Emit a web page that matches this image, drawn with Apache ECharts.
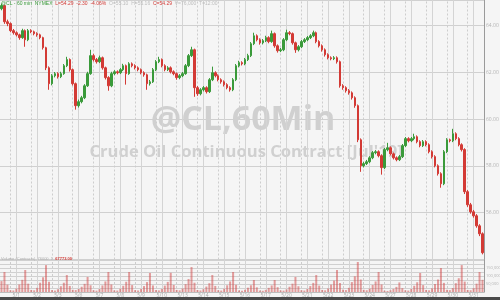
<!DOCTYPE html>
<html><head><meta charset="utf-8">
<script src="https://cdn.jsdelivr.net/npm/echarts@6/dist/echarts.min.js"></script>
<style>html,body{margin:0;padding:0;background:#f5f5f5}#c{width:500px;height:300px}</style>
</head><body><div id="c"></div>
<script>
// ---- data ----
const dayLabels = ['5/1','5/2','5/3','5/6','5/7','5/8','5/9','5/10','5/13','5/14','5/15','5/16','5/17','5/20','5/21','5/22','5/23','5/24','5/27','5/28','5/29','5/30','5/31'];
const barsPerDay = 7;
const firstMidnightBar = 5;
const sessionOffset = 2;
const firstOpen = 64.73;
const closes = [
64.86,64.17,64.09,63.79,63.70,63.61,63.49,63.79,63.40,63.79,
63.74,63.66,63.61,63.49,63.06,62.20,61.52,61.86,61.95,61.82,
61.95,62.29,62.55,62.12,61.52,60.58,60.75,60.92,61.43,61.95,
62.72,62.55,62.46,62.63,62.20,61.78,61.43,61.95,62.03,61.99,
62.12,62.29,61.95,62.37,62.29,62.20,62.12,61.99,61.90,61.52,
61.60,62.12,62.46,62.55,62.29,62.12,62.20,62.03,61.95,61.78,
61.86,61.95,62.29,62.72,62.97,61.35,61.09,61.26,61.35,61.18,
61.69,61.99,61.86,61.69,61.60,61.48,61.35,61.26,61.69,62.29,
62.42,62.37,62.55,62.72,63.23,63.57,63.40,63.27,63.36,63.49,
63.32,63.66,63.14,62.93,62.97,63.40,63.70,63.66,63.27,62.97,
63.10,63.32,63.40,63.49,63.57,63.70,63.32,63.14,62.97,62.76,
62.63,62.59,62.63,62.46,61.43,61.35,61.22,61.13,60.92,60.58,
59.12,58.01,58.10,58.18,58.35,58.57,58.61,58.44,57.93,58.70,
58.78,58.52,58.35,58.27,58.40,58.87,59.17,59.08,59.17,59.25,
59.04,58.87,59.04,58.91,58.61,58.40,58.01,57.67,57.24,58.61,
59.12,59.08,59.38,59.17,58.91,58.70,56.90,56.34,56.04,55.87,
55.44,55.10,54.29];
const highs = [
64.95,64.90,64.26,64.14,63.86,63.76,63.66,63.87,63.84,63.86,
63.85,63.79,63.72,63.66,63.53,63.10,62.26,61.93,62.02,62.01,
62.03,62.36,62.67,62.60,62.17,61.57,60.84,61.00,61.50,62.03,
62.97,62.80,62.62,62.72,62.68,62.25,61.84,62.03,62.10,62.09,
62.19,62.37,62.34,62.44,62.43,62.35,62.26,62.17,62.05,61.95,
61.68,62.19,62.53,62.67,62.60,62.35,62.27,62.26,62.09,62.00,
61.93,62.02,62.36,62.79,63.10,63.02,61.42,61.33,61.42,61.41,
61.76,62.25,62.05,61.92,61.75,61.66,61.54,61.41,61.76,62.36,
62.50,62.48,62.62,62.80,63.30,63.70,63.63,63.46,63.43,63.57,
63.55,63.79,63.71,63.20,63.05,63.47,63.83,63.77,63.71,63.32,
63.17,63.39,63.47,63.56,63.64,63.79,63.75,63.38,63.20,63.03,
62.82,62.69,62.70,62.69,62.51,61.50,61.41,61.29,61.19,60.98,
60.63,59.18,58.18,58.26,58.42,58.64,58.68,58.67,58.50,58.77,
58.99,58.84,58.58,58.41,58.47,58.94,59.24,59.23,59.24,59.38,
59.31,59.10,59.11,59.10,58.97,58.67,58.46,58.07,57.73,58.68,
59.19,59.17,59.59,59.44,59.23,58.97,58.76,56.97,56.42,56.12,
55.94,55.51,55.16];
const lows = [
64.66,64.08,63.98,63.72,63.62,63.54,63.40,63.44,63.10,63.34,
63.68,63.59,63.53,63.42,62.98,62.10,61.26,61.45,61.79,61.74,
61.76,61.90,62.23,62.04,61.44,60.41,60.50,60.68,60.86,61.38,
61.90,62.47,62.38,62.40,62.12,61.70,61.22,61.37,61.88,61.92,
61.93,62.06,61.48,61.90,62.22,62.13,62.05,61.92,61.82,61.26,
61.44,61.55,62.06,62.40,62.22,62.05,62.06,61.96,61.88,61.69,
61.71,61.80,61.90,62.23,62.66,60.96,61.00,61.02,61.19,61.10,
61.12,61.63,61.79,61.62,61.52,61.40,61.28,61.18,61.20,61.63,
62.22,62.30,62.31,62.49,62.66,63.17,63.33,63.19,63.20,63.30,
63.25,63.27,63.06,62.85,62.87,62.91,63.34,63.59,63.19,62.84,
62.90,63.04,63.26,63.34,63.43,63.51,63.25,63.07,62.89,62.68,
62.56,62.52,62.53,62.38,61.35,61.26,61.14,61.05,60.84,60.49,
59.02,57.75,57.94,58.04,58.12,58.29,58.50,58.37,57.63,57.87,
58.63,58.45,58.28,58.20,58.21,58.34,58.81,59.01,59.02,59.10,
58.97,58.80,58.81,58.84,58.54,58.32,57.94,57.59,57.07,57.18,
58.55,59.01,59.02,59.10,58.84,58.62,56.80,56.25,55.96,55.79,
55.36,55.00,54.22];
const volumes = [
68000,125000,46000,11000,9500,21000,47000,76000,137500,52000,
13000,10500,26000,58000,92000,168000,64000,12000,9000,17000,
36000,58000,106000,38000,14000,12000,19000,33000,51000,94000,
42000,11000,8500,18000,41000,66000,125000,47000,10000,9000,
20000,39000,64000,125000,43000,11500,9500,18500,37000,62000,
119000,41000,12000,10000,19000,40000,63000,120000,44000,13000,
10500,22000,49000,81000,156000,58000,12500,9500,17500,34000,
55000,106000,38000,11000,9000,20000,42000,66000,125000,45000,
9500,8000,14000,27000,42000,75000,29000,9000,7500,13500,
26000,41000,75000,30000,10000,8500,16000,33000,52000,94000,
36000,11000,9000,18500,37000,57000,106000,40000,13000,10500,
22000,46000,71000,137500,56000,15000,12000,26000,62000,98000,
187500,78000,14000,11000,21000,44000,66000,125000,47000,8000,
6500,11000,19000,32000,60000,24000,10500,9000,19000,39000,
61000,119000,43000,13000,10500,23000,50000,78000,150000,57000,
14000,11500,25000,55000,86000,168000,65000,13000,11000,24000,
52000,125000,76000];
const volumeTickLabels = [50000, 100000, 150000];

// ---- build ----
const cats = closes.map((_, i) => String(i));
const opens = [firstOpen].concat(closes.slice(0, -1));
const candles = closes.map((c, i) => [opens[i], c, lows[i], highs[i]]);
const lastClose = closes[closes.length - 1];
const lastVol = volumes[volumes.length - 1];

function dayLines() {
  const out = [];
  dayLabels.forEach((d, k) => {
    const mid = firstMidnightBar + barsPerDay * k;
    const ses = mid - sessionOffset;
    if (ses >= 0 && ses < cats.length) out.push({xAxis: cats[ses], lineStyle: {type: [2, 2], color: '#cdcdcd', width: 1}});
    if (mid < cats.length) out.push({xAxis: cats[mid], lineStyle: {type: 'solid', color: '#d4d4d4', width: 1}});
  });
  return out;
}
const UP = '#3a9a3a', DOWN = '#d33a35';
const fmt = n => n.toLocaleString('en-US');

const chart = echarts.init(document.getElementById('c'), null, {renderer: 'canvas'});
chart.setOption({
  animation: false,
  backgroundColor: '#f5f5f5',
  textStyle: {fontFamily: 'Open Sans, DejaVu Sans, sans-serif'},
  grid: [
    {left: 0, right: 16, top: 0, height: 259.5, outerBoundsMode: 'none', containLabel: false},
    {left: 0, right: 16, top: 260, height: 32, outerBoundsMode: 'none', containLabel: false}
  ],
  xAxis: [
    {type: 'category', gridIndex: 0, data: cats, boundaryGap: true,
     axisLine: {show: false}, axisTick: {show: false}, axisLabel: {show: false}, splitLine: {show: false}},
    {type: 'category', gridIndex: 1, data: cats, boundaryGap: true,
     axisLine: {show: true, lineStyle: {color: '#bdbdbd'}}, axisTick: {show: false}, splitLine: {show: false},
     axisLabel: {show: true, fontSize: 5, color: '#a8a8a8', margin: 1,
       interval: idx => idx >= firstMidnightBar && (idx - firstMidnightBar) % barsPerDay === 0,
       formatter: (v, idx) => dayLabels[(idx - firstMidnightBar) / barsPerDay] || ''}}
  ],
  yAxis: [
    {type: 'value', gridIndex: 0, position: 'right', min: 54, max: 65.1, interval: 2,
     axisLine: {show: true, lineStyle: {color: '#9a9a9a'}}, axisTick: {show: false},
     splitLine: {show: true, lineStyle: {color: '#d0d0d0', width: 1}},
     axisLabel: {fontSize: 5, color: '#b4b4b4', margin: 2, showMinLabel: false, showMaxLabel: false,
       formatter: v => v.toFixed(2)}},
    {type: 'value', gridIndex: 1, position: 'right', min: 0, max: 200000, interval: 25000,
     axisLine: {show: true, lineStyle: {color: '#9a9a9a'}}, axisTick: {show: false},
     splitLine: {show: true, lineStyle: {color: '#d0d0d0', width: 1}},
     axisLabel: {fontSize: 4, color: '#b4b4b4', margin: 2, showMinLabel: false, showMaxLabel: false,
       formatter: v => volumeTickLabels.indexOf(v) >= 0 ? fmt(v) : ''}}
  ],
  series: [
    {type: 'candlestick', xAxisIndex: 0, yAxisIndex: 0, data: candles, barWidth: 2, z: 3,
     itemStyle: {color: UP, color0: DOWN, borderColor: UP, borderColor0: DOWN, borderWidth: 1},
     markLine: {silent: true, symbol: ['none', 'none'], animation: false, z: 1,
       label: {show: false},
       data: dayLines().concat([{yAxis: lastClose, lineStyle: {opacity: 0},
         label: {show: true, position: 'end', distance: 1, formatter: () => lastClose.toFixed(2),
           backgroundColor: '#e0302c', color: '#fff', fontSize: 5, padding: [1, 2], fontWeight: 'bold'}}])}},
    {type: 'bar', xAxisIndex: 1, yAxisIndex: 1, data: volumes, barWidth: 2, z: 3,
     itemStyle: {color: 'rgba(210,80,80,0.55)'},
     markLine: {silent: true, symbol: ['none', 'none'], animation: false, z: 1,
       label: {show: false},
       data: dayLines().concat([{yAxis: lastVol, lineStyle: {opacity: 0},
         label: {show: true, position: 'end', distance: 1, formatter: () => fmt(lastVol),
           backgroundColor: '#e0302c', color: '#fff', fontSize: 4, padding: [1, 2]}}])}}
  ],
  graphic: [
    {type: 'text', z: 0, silent: true, x: 243, y: 120,
     style: {text: '@CL,60Min', font: 'bold 34px "Open Sans", sans-serif', fill: '#d0d0d0', align: 'center', verticalAlign: 'middle'}},
    {type: 'text', z: 0, silent: true, x: 246, y: 152,
     style: {text: "Crude Oil Continuous Contract [Jul'19]", font: 'bold 16.6px "Open Sans", sans-serif', fill: '#d0d0d0', align: 'center', verticalAlign: 'middle'}},
    {type: 'text', z: 5, silent: true, x: 1, y: 1,
     style: {rich: {g: {fill: UP, fontSize: 5}, r: {fill: DOWN, fontSize: 5}, s: {fill: '#bdbdbd', fontSize: 5}},
       text: '{g|@CL - 60 min  NYMEX}  {r|L=54.29  -2.30  -4.06%}  {s|O=55.10  H=55.16}  {r|C=54.29}  {s|V=76,000  T=12:00}', fontSize: 5}},
    {type: 'text', z: 5, silent: true, x: 1, y: 257,
     style: {rich: {s: {fill: '#b0b0b0', fontSize: 4}, r: {fill: DOWN, fontSize: 4, fontWeight: 'bold'}},
       text: '{s|Volume (Contracts)  76000  1}  {r|67773.00}', fontSize: 4}},
    {type: 'rect', z: 5, silent: true, left: 0, bottom: 0, shape: {width: 500, height: 3}, style: {fill: '#4a4a4a'}}
  ]
});
</script></body></html>
